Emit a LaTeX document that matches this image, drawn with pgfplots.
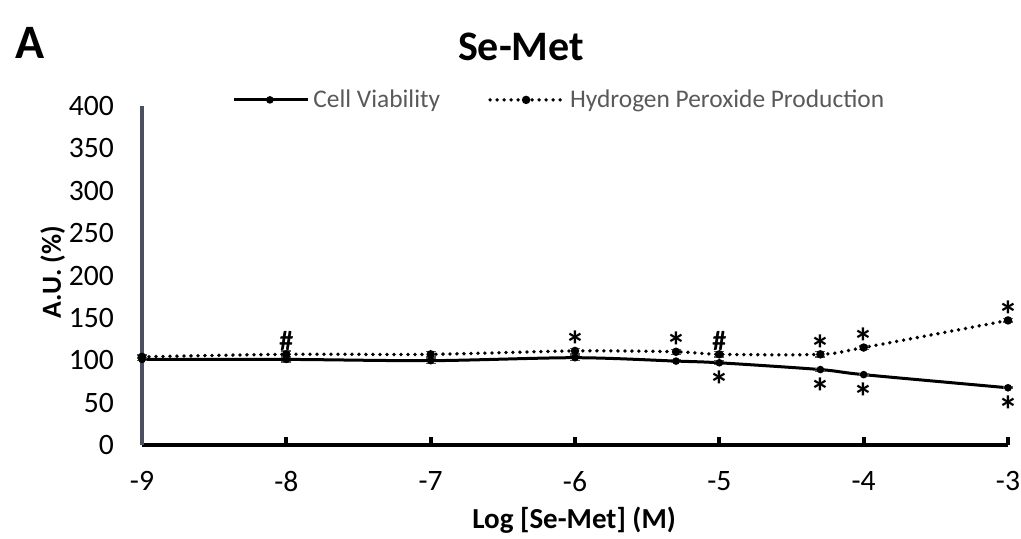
\documentclass[border=0pt]{standalone}
\usepackage{fontspec}
\setmainfont{Carlito}
\usepackage{pgfplots}
\pgfplotsset{compat=1.18}
\usepackage{pgfplotstable}

\definecolor{axisgrey}{HTML}{4A5060}
\definecolor{legtext}{HTML}{595959}
\definecolor{errgrey}{HTML}{555555}

% log concentration, cell viability (+err), H2O2 production (+err)
\pgfplotstableread{
x     cv     cverr  hp     hperr
-9    101    1.5    104    2
-8    101    3      107    4
-7    99.5   3      107    3
-6    103    3      111    3
-5.3  99     2      110    3
-5    97     2      107    3
-4.3  89     1.5    107    3
-4    83     1      115    2
-3    67.5   1      147    2
}\semet

\begin{document}
\begin{tikzpicture}
\useasboundingbox (-71pt,-47pt) rectangle (439.5pt,222.5pt);
\begin{axis}[
    at={(0,0)}, anchor=south west,
    scale only axis,
    width=433pt, height=169.5pt,
    xmin=-9, xmax=-3, ymin=0, ymax=400,
    xtick={-9,-8,-7,-6,-5,-4,-3},
    ytick={0,50,...,400},
    axis x line=bottom, axis y line=left,
    x axis line style={-, black, line width=2.4pt},
    y axis line style={-, axisgrey, line width=2.4pt},
    xtick align=inside,
    major tick length=4pt,
    xtick style={black, line width=2pt},
    ytick style={draw=none},
    clip=false,
    /pgf/number format/assume math mode=true,
    tick label style={font=\fontsize{14.8pt}{17pt}\selectfont},
    xticklabel style={yshift=-9.5pt},
    yticklabel style={xshift=-8.5pt},
    xlabel={\textbf{Log [Se-Met] (M)}},
    ylabel={\textbf{A.U. (\%)}},
    xlabel style={at={(axis description cs:0.499,-0.221)}, anchor=center,
        font=\fontsize{14.5pt}{17pt}\selectfont},
    ylabel style={at={(axis description cs:-0.103,0.51)}, anchor=center,
        font=\fontsize{13.8pt}{16pt}\selectfont},
    legend style={at={(axis description cs:0.097,1.018)}, anchor=west,
        draw=none, fill=none, text=legtext,
        font=\fontsize{12.7pt}{15pt}\selectfont,
        legend columns=2,
        /tikz/every even column/.append style={column sep=22pt}},
    legend image code/.code={%
        \draw[mark repeat=2, mark phase=2, #1]
            plot coordinates {(0pt,0pt) (18pt,0pt) (37pt,0pt)};},
]
\addplot[black, line width=1.5pt, smooth, mark=*, mark size=1.1pt,
    error bars/.cd, y dir=both, y explicit,
    error bar style={errgrey, line width=0.7pt},
    error mark options={rotate=90, mark size=2.5pt, errgrey, line width=0.7pt}]
    table[x=x, y=cv, y error=cverr] {\semet};
\addlegendentry{Cell Viability}
\addplot[black, line width=1.9pt, smooth, dash pattern=on 0pt off 3.5pt,
    line cap=round, mark=*, mark size=1.1pt, mark options={solid},
    error bars/.cd, y dir=both, y explicit,
    error bar style={errgrey, line width=0.7pt, solid},
    error mark options={rotate=90, mark size=2.5pt, errgrey, line width=0.7pt, solid}]
    table[x=x, y=hp, y error=hperr] {\semet};
\addlegendentry{Hydrogen Peroxide Production}

% significance marks above H2O2
\addplot[draw=none, forget plot, nodes near coords={\textbf{*}},
    every node near coord/.append style={anchor=base, yshift=-4.4pt,
        font=\fontsize{20pt}{22pt}\selectfont, text=black}]
    coordinates {(-6,111) (-5.3,110) (-4.3,107) (-4,115) (-3,147)};
\addplot[draw=none, forget plot, nodes near coords={\textbf{\#}},
    every node near coord/.append style={anchor=base, yshift=1.8pt,
        font=\fontsize{14pt}{16pt}\selectfont, text=black}]
    coordinates {(-8,107) (-5,107)};
% significance marks below viability
\addplot[draw=none, forget plot, nodes near coords={\textbf{*}},
    every node near coord/.append style={anchor=base, yshift=-18.4pt,
        font=\fontsize{20pt}{22pt}\selectfont, text=black}]
    coordinates {(-5,97) (-4.3,89) (-4,83) (-3,67.5)};
\end{axis}
\node[font=\bfseries\fontsize{21pt}{24pt}\selectfont] at (189.5pt,199pt) {Se-Met};
\node[font=\bfseries\fontsize{24pt}{26pt}\selectfont] at (-56pt,201pt) {A};
\end{tikzpicture}
\end{document}
